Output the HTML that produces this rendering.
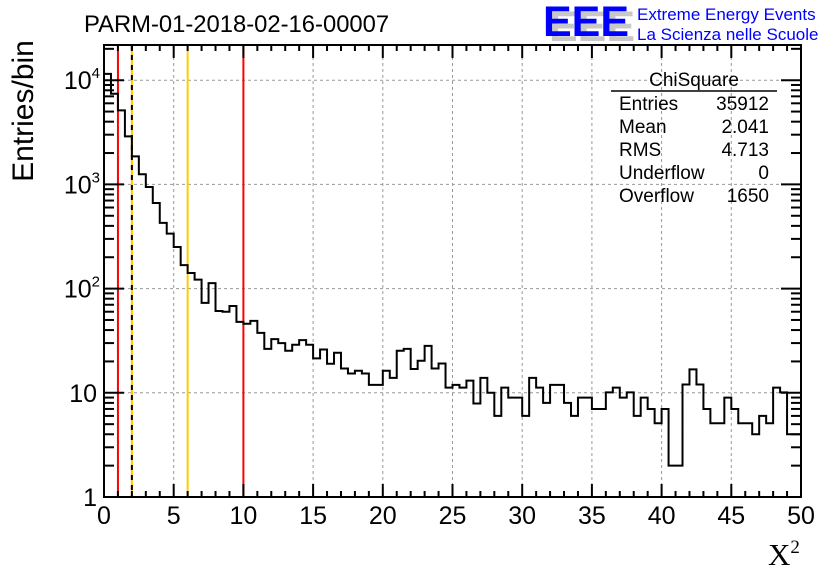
<!DOCTYPE html>
<html><head><meta charset="utf-8"><style>
html,body{margin:0;padding:0;background:#fff;}
svg{display:block;font-family:"Liberation Sans",sans-serif;}
</style></head><body>
<svg id="chart" width="836" height="572" viewBox="0 0 836 572">
<text x="84" y="32" font-size="23.8" fill="#000">PARM-01-2018-02-16-00007</text>
<g>
<text x="549" y="41" font-size="43" font-weight="bold" fill="#c8c8c8">EEE</text>
<text x="543" y="36" font-size="43" font-weight="bold" fill="#0000ff">EEE</text>
<text x="637" y="20" font-size="17" fill="#0000ff">Extreme Energy Events</text>
<text x="637" y="40" font-size="17" fill="#0000ff">La Scienza nelle Scuole</text>
</g>
<g id="grid"></g>
<g id="vlines"></g>
<path id="hist" fill="none" stroke="#000" stroke-width="2"></path>
<g id="axes"></g>
<g font-size="19" fill="#000">
<text x="694" y="86" text-anchor="middle">ChiSquare</text>
<line x1="611" y1="91" x2="777" y2="91" stroke="#000" stroke-width="1.5"></line>
<text x="619" y="110">Entries</text><text x="769" y="110" text-anchor="end">35912</text>
<text x="619" y="133">Mean</text><text x="769" y="133" text-anchor="end">2.041</text>
<text x="619" y="156">RMS</text><text x="769" y="156" text-anchor="end">4.713</text>
<text x="619" y="179">Underflow</text><text x="769" y="179" text-anchor="end">0</text>
<text x="619" y="202">Overflow</text><text x="769" y="202" text-anchor="end">1650</text>
</g>
<text transform="translate(33,111) rotate(-90)" text-anchor="middle" font-size="30">Entries/bin</text>
<text x="768" y="565" font-family="'Liberation Serif',serif" font-size="31">X<tspan font-size="19" dy="-12">2</tspan></text>
</svg>
<script>
const binWidth = 0.5;
const counts = [11500,7420,5130,2890,1860,1250,944,663,427,337,
251,168,141,122,73,113,61,60,68,48,
46,49,37.6,26.4,32.7,30,25.3,28.9,32,28.9,
21.4,26,19,24.2,17.1,15.3,16.3,15.3,11.9,11.9,
16.3,13.9,25.3,26.4,16.9,20.3,28.2,17.1,19.1,11.2,
11.9,11.2,13.1,7.9,13.9,10,6,11.2,9,9,
6,13.9,11.2,8,11.9,11.9,8,6,9,9,
7,7,10.1,11.2,9,10.1,6,9,7,5.1,
7,2,2,12,16.8,12,7,5.1,5.1,9,
7,5.1,5.1,4,6,5.1,11.2,10.1,4,4];
const xTicks = [0,5,10,15,20,25,30,35,40,45,50];
const yTicks = [1,10,100,1000,10000];
const yTickLabels = ["1","10","10^2","10^3","10^4"];
const redCuts = [1,10];
const yellowCuts = [6];
const dashedCuts = [2];

const L=104,R=801,T=45,B=497;
const xMin=0,xMax=50,yDecPx=104.2;
function X(v){return L+(v-xMin)/(xMax-xMin)*(R-L);}
function Y(v){return B-Math.log10(v)*yDecPx;}
const NS="http://www.w3.org/2000/svg";
function mk(tag,attrs,parent){const e=document.createElementNS(NS,tag);for(const k in attrs)e.setAttribute(k,attrs[k]);parent.appendChild(e);return e;}
const grid=document.getElementById('grid'),axes=document.getElementById('axes'),vl=document.getElementById('vlines');
xTicks.forEach(t=>{if(t>xMin&&t<xMax){const l=mk('line',{x1:X(t),x2:X(t),y1:T,y2:B,stroke:'#999','stroke-width':1,'stroke-dasharray':'3,3'},grid);

}});
yTicks.forEach(t=>{const y=Y(t);if(y>T&&y<B){const l=mk('line',{x1:L,x2:R,y1:y,y2:y,stroke:'#999','stroke-width':1,'stroke-dasharray':'3,3'},grid);

}});
redCuts.forEach(c=>{const l=mk('line',{x1:X(c),x2:X(c),y1:T,y2:B,stroke:'#ff0000','stroke-width':2},vl);

});
yellowCuts.forEach(c=>{const l=mk('line',{x1:X(c),x2:X(c),y1:T,y2:B,stroke:'#ffcc00','stroke-width':2},vl);

});
dashedCuts.forEach(c=>{const l=mk('line',{x1:X(c),x2:X(c),y1:T,y2:B,stroke:'#ffcc00','stroke-width':2},vl);


const d=mk('line',{x1:X(c),x2:X(c),y1:T,y2:B,stroke:'#000','stroke-width':2,'stroke-dasharray':'5,5'},vl);

});
let d='M'+X(0)+','+B;
counts.forEach((c,i)=>{const y=Math.min(B,Y(Math.max(c,1)));d+=' L'+X(i*binWidth)+','+y+' L'+X((i+1)*binWidth)+','+y;});
d+=' L'+X(counts.length*binWidth)+','+B;
document.getElementById('hist').setAttribute('d',d);
const fr=mk('rect',{x:L,y:T,width:R-L,height:B-T,fill:'none',stroke:'#000','stroke-width':2},axes);


for(let v=xMin;v<=xMax+1e-9;v+=1){const major=(v%5===0);const len=major?13:6;
mk('line',{x1:X(v),x2:X(v),y1:B,y2:B-len,stroke:'#000','stroke-width':2},axes);
mk('line',{x1:X(v),x2:X(v),y1:T,y2:T+len,stroke:'#000','stroke-width':2},axes);}
xTicks.forEach(t=>{const tx=mk('text',{x:X(t),y:524,'text-anchor':'middle','font-size':25},axes);tx.textContent=String(t);

});
for(let dec=0;dec<5;dec++){for(let m=1;m<10;m++){const v=m*Math.pow(10,dec);const y=Y(v);if(y<T)continue;const len=m===1?20:10;
mk('line',{x1:L,x2:L+len,y1:y,y2:y,stroke:'#000','stroke-width':2},axes);
mk('line',{x1:R,x2:R-len,y1:y,y2:y,stroke:'#000','stroke-width':2},axes);}}
yTicks.forEach((t,i)=>{const lab=yTickLabels[i];const y=Y(t)+9;const tx=mk('text',{x:97,y:y,'text-anchor':'end','font-size':25},axes);
if(lab.indexOf('^')>=0){const p=lab.split('^');tx.textContent=p[0];const s=mk('tspan',{'font-size':15,dy:-11},tx);s.textContent=p[1];tx.setAttribute('x',100);}
else tx.textContent=lab;

});
</script>
</body></html>
